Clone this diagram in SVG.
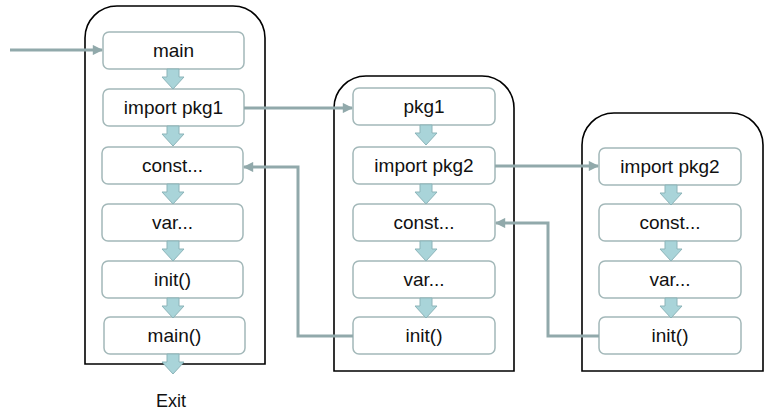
<svg xmlns="http://www.w3.org/2000/svg" width="778" height="415" viewBox="0 0 778 415">
<style>
.pkg{fill:#fff;stroke:#000;stroke-width:1.6}
.box{fill:#fff;stroke:#a3b8b9;stroke-width:1.5}
.t{font-family:"Liberation Sans",Arial,sans-serif;font-size:19px;fill:#111;text-anchor:middle}
.blk{fill:#a9d4d9;stroke:#8cb4b9;stroke-width:1}
.con{fill:none;stroke:#91a9ab;stroke-width:3}
</style>
<defs>
<path id="ba" d="M-6,0 H6 V8 H11 L0,20 L-11,8 H-6 Z"/>
<marker id="ah" viewBox="0 0 10 10" refX="9" refY="5" markerWidth="4" markerHeight="3.4" orient="auto" markerUnits="strokeWidth">
<path d="M0,0 L10,5 L0,10 Z" fill="#91a9ab"/>
</marker>
</defs>
<rect width="778" height="415" fill="#fff"/>

<g id="pkg-main">
<path class="pkg" d="M85,364 V38 A32,32 0 0 1 117,6 H233 A32,32 0 0 1 265,38 V364 Z"/>
<g id="n-main"><rect class="box" x="103" y="32" width="141" height="37" rx="6"/><text class="t" x="173.5" y="57">main</text></g>
<g id="n-import-pkg1"><rect class="box" x="103" y="89" width="141" height="37" rx="6"/><text class="t" x="173.5" y="114">import pkg1</text></g>
<g id="n-const1"><rect class="box" x="102" y="147" width="141" height="37" rx="6"/><text class="t" x="172.5" y="172">const...</text></g>
<g id="n-var1"><rect class="box" x="102" y="204" width="141" height="37" rx="6"/><text class="t" x="172.5" y="229">var...</text></g>
<g id="n-init1"><rect class="box" x="102" y="261" width="141" height="37" rx="6"/><text class="t" x="172.5" y="286">init()</text></g>
<g id="n-mainfn"><rect class="box" x="104" y="317" width="141" height="37" rx="6"/><text class="t" x="174.5" y="342">main()</text></g>
<use href="#ba" class="blk" transform="translate(173,69)"/>
<use href="#ba" class="blk" transform="translate(173,126)"/>
<use href="#ba" class="blk" transform="translate(173,184)"/>
<use href="#ba" class="blk" transform="translate(173,241)"/>
<use href="#ba" class="blk" transform="translate(173,298)"/>
<use href="#ba" class="blk" transform="translate(173,354)"/>
</g>

<g id="pkg-pkg1">
<path class="pkg" d="M334,371 V108 A32,32 0 0 1 366,76 H482 A32,32 0 0 1 514,108 V371 Z"/>
<g id="n-pkg1"><rect class="box" x="353" y="88" width="142" height="37" rx="6"/><text class="t" x="424" y="113">pkg1</text></g>
<g id="n-import-pkg2a"><rect class="box" x="353" y="147" width="142" height="37" rx="6"/><text class="t" x="424" y="172">import pkg2</text></g>
<g id="n-const2"><rect class="box" x="353" y="204" width="142" height="37" rx="6"/><text class="t" x="424" y="229">const...</text></g>
<g id="n-var2"><rect class="box" x="353" y="261" width="142" height="37" rx="6"/><text class="t" x="424" y="286">var...</text></g>
<g id="n-init2"><rect class="box" x="353" y="317" width="142" height="37" rx="6"/><text class="t" x="424" y="342">init()</text></g>
<use href="#ba" class="blk" transform="translate(426,125)"/>
<use href="#ba" class="blk" transform="translate(426,184)"/>
<use href="#ba" class="blk" transform="translate(426,241)"/>
<use href="#ba" class="blk" transform="translate(426,298)"/>
</g>

<g id="pkg-pkg2">
<path class="pkg" d="M582,371 V145 A32,32 0 0 1 614,113 H731 A32,32 0 0 1 763,145 V371 Z"/>
<g id="n-import-pkg2b"><rect class="box" x="599" y="148" width="142" height="37" rx="6"/><text class="t" x="670" y="173">import pkg2</text></g>
<g id="n-const3"><rect class="box" x="599" y="204" width="142" height="37" rx="6"/><text class="t" x="670" y="229">const...</text></g>
<g id="n-var3"><rect class="box" x="599" y="261" width="142" height="37" rx="6"/><text class="t" x="670" y="286">var...</text></g>
<g id="n-init3"><rect class="box" x="599" y="317" width="142" height="37" rx="6"/><text class="t" x="670" y="342">init()</text></g>
<use href="#ba" class="blk" transform="translate(671,185)"/>
<use href="#ba" class="blk" transform="translate(671,241)"/>
<use href="#ba" class="blk" transform="translate(671,298)"/>
</g>

<g id="connectors">
<path class="con" d="M10,50 H102" marker-end="url(#ah)"/>
<path class="con" d="M244,108 H352" marker-end="url(#ah)"/>
<path class="con" d="M495,166 H598" marker-end="url(#ah)"/>
<path class="con" d="M599,336 H548 V223 H496" marker-end="url(#ah)"/>
<path class="con" d="M353,336 H298 V167 H244" marker-end="url(#ah)"/>
</g>

<text class="t" x="171" y="407" style="font-size:18px">Exit</text>
</svg>
